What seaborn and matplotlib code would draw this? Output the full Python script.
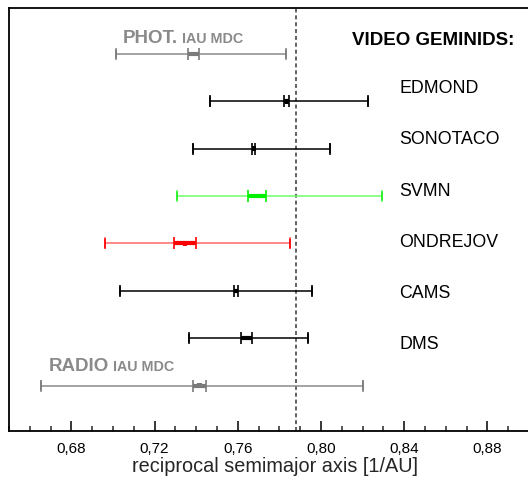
import matplotlib
matplotlib.use("Agg")
import matplotlib.pyplot as plt
from matplotlib.ticker import MultipleLocator, FuncFormatter
import seaborn as sns
import pandas as pd

# ---- data ----
names = ["PHOT", "EDMOND", "SONOTACO", "SVMN", "ONDREJOV", "CAMS", "DMS", "RADIO"]
center = [0.7388, 0.7836, 0.7677, 0.7692, 0.7347, 0.7592, 0.7642, 0.7416]
inner_lo = [0.7362, 0.7824, 0.7670, 0.7650, 0.7294, 0.7584, 0.7613, 0.7387]
inner_hi = [0.7415, 0.7848, 0.7684, 0.7735, 0.7399, 0.7600, 0.7670, 0.7445]
outer_lo = [0.7016, 0.7464, 0.7387, 0.7307, 0.6962, 0.7032, 0.7366, 0.6656]
outer_hi = [0.7831, 0.8227, 0.8045, 0.8295, 0.7853, 0.7958, 0.7938, 0.8203]
ref_value = 0.788
video_labels = ["EDMOND", "SONOTACO", "SVMN", "ONDREJOV", "CAMS", "DMS"]
xlabel = "reciprocal semimajor axis [1/AU]"

df = pd.DataFrame({"name": names, "center": center, "ilo": inner_lo, "ihi": inner_hi,
                   "olo": outer_lo, "ohi": outer_hi})
df["row"] = range(len(df))

line_col = {"PHOT": "#8a8a8a", "EDMOND": "black", "SONOTACO": "black", "SVMN": "#6cff6c",
            "ONDREJOV": "#ff6a6a", "CAMS": "black", "DMS": "black", "RADIO": "#8a8a8a"}
cap_col = {"PHOT": "#7a7a7a", "EDMOND": "black", "SONOTACO": "black", "SVMN": "#22ee22",
           "ONDREJOV": "#ff0000", "CAMS": "black", "DMS": "black", "RADIO": "#7a7a7a"}
inner_col = {"PHOT": "#7a7a7a", "EDMOND": "black", "SONOTACO": "black", "SVMN": "#00f000",
             "ONDREJOV": "#ff0000", "CAMS": "black", "DMS": "black", "RADIO": "#7a7a7a"}

sns.set_theme(style="ticks")
plt.rcParams["font.family"] = ["Liberation Sans", "DejaVu Sans"]

fig = plt.figure(figsize=(5.28, 4.81), dpi=100)
ax = fig.add_axes([9 / 528, 49 / 481, 520 / 528, 423 / 481])

for _, r in df.iterrows():
    n = r["name"]
    y = r["row"]
    c = r["center"]
    # outer error bar
    ax.errorbar([c], [y], xerr=[[c - r["olo"]], [r["ohi"] - c]], fmt="none",
                ecolor=line_col[n], elinewidth=1.1, capsize=4.5, capthick=1.1, zorder=2)
    ax.plot([r["olo"], r["olo"]], [y - 0.09, y + 0.09], color=cap_col[n], lw=1.2, zorder=3)
    ax.plot([r["ohi"], r["ohi"]], [y - 0.09, y + 0.09], color=cap_col[n], lw=1.2, zorder=3)
    # inner error bar
    ax.errorbar([c], [y], xerr=[[c - r["ilo"]], [r["ihi"] - c]], fmt="none",
                ecolor=inner_col[n], elinewidth=3.0, capsize=4.5, capthick=1.2, zorder=4)

sns.scatterplot(data=df, x="center", y="row", hue="name",
                palette=inner_col, marker="s", s=10, linewidth=0, legend=False, ax=ax, zorder=5)

ax.axvline(ref_value, color="#555555", lw=1.3, ls=(0, (2.2, 1.6)), zorder=1)

ax.set_xlim(0.65, 0.90)
ax.set_ylim(7.96, -0.97)
ax.set_yticks([])
ax.set_ylabel("")
ax.xaxis.set_major_locator(MultipleLocator(0.04))
ax.xaxis.set_minor_locator(MultipleLocator(0.01))
ax.xaxis.set_major_formatter(FuncFormatter(lambda v, p: f"{v:.2f}".replace(".", ",")))
ax.tick_params(axis="x", which="major", direction="in", length=7, width=1.1,
               labelsize=11, pad=7, colors="black")
ax.tick_params(axis="x", which="minor", direction="in", length=3.5, width=1.1)
ax.set_xlabel(xlabel, fontsize=14.3)
ax.xaxis.set_label_coords(0.5115, -0.060)
for s in ["left", "top", "bottom"]:
    ax.spines[s].set_linewidth(1.3)
    ax.spines[s].set_color("black")
ax.spines["right"].set_visible(False)

# text annotations
t = ax.text(0.7048, -0.35, "PHOT.", fontsize=13.5, fontweight="bold", color="#8a8a8a",
            va="center", ha="left")
ax.annotate(" IAU MDC", xycoords=t, xy=(1, 0.08), fontsize=10.3, fontweight="bold",
            color="#8a8a8a", va="bottom", ha="left")
t2 = ax.text(0.6691, 6.58, "RADIO", fontsize=13.5, fontweight="bold", color="#8a8a8a",
             va="center", ha="left")
ax.annotate(" IAU MDC", xycoords=t2, xy=(1, 0.08), fontsize=10.3, fontweight="bold",
            color="#8a8a8a", va="bottom", ha="left")
ax.text(0.8148, -0.30, "VIDEO GEMINIDS:", fontsize=13.5, fontweight="bold",
        color="black", va="center", ha="left")
label_y = [0.70, 1.78, 2.88, 3.96, 5.04, 6.12]
for lab, yy in zip(video_labels, label_y):
    ax.text(0.8376, yy, lab, fontsize=12.8, color="black", va="center", ha="left")

fig.savefig("out.png", dpi=100)
